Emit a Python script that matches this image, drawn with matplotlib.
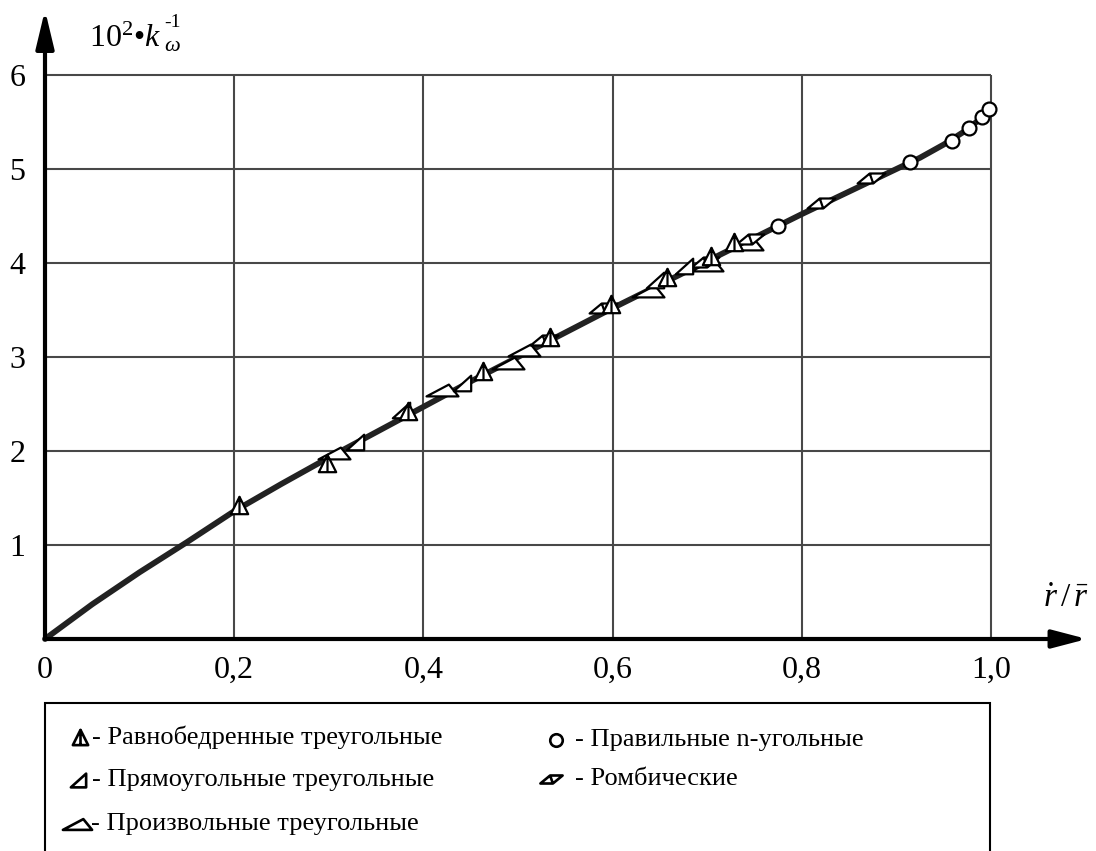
import numpy as np
import matplotlib
matplotlib.use("Agg")
import matplotlib.pyplot as plt
from matplotlib.path import Path
from matplotlib.patches import Rectangle
from matplotlib.lines import Line2D

plt.rcParams['font.family'] = ['Liberation Serif', 'DejaVu Serif']
plt.rcParams['mathtext.fontset'] = 'custom'
plt.rcParams['mathtext.rm'] = 'Liberation Serif'
plt.rcParams['mathtext.it'] = 'Liberation Serif:italic'
plt.rcParams['mathtext.bf'] = 'Liberation Serif:bold'

# ---------------- data ----------------
x_ticks = [0, 0.2, 0.4, 0.6, 0.8, 1.0]
x_tick_labels = ['0', '0,2', '0,4', '0,6', '0,8', '1,0']
y_ticks = [1, 2, 3, 4, 5, 6]
y_tick_labels = ['1', '2', '3', '4', '5', '6']

curve_x = [0, 0.05, 0.10, 0.15, 0.20, 0.25, 0.30, 0.35, 0.40, 0.45, 0.50, 0.55,
           0.60, 0.65, 0.70, 0.75, 0.80, 0.85, 0.90, 0.925, 0.95, 0.975, 1.0]
curve_y = [0, 0.37, 0.71, 1.03, 1.36, 1.65, 1.93, 2.20, 2.47, 2.74, 3.00, 3.26,
           3.52, 3.77, 4.02, 4.27, 4.52, 4.76, 5.00, 5.12, 5.26, 5.42, 5.63]

iso_x = [0.205, 0.298, 0.384, 0.463, 0.534, 0.598, 0.658, 0.704, 0.728]
iso_y = [1.43, 1.87, 2.43, 2.85, 3.21, 3.56, 3.85, 4.07, 4.22]

right_x = [0.328, 0.376, 0.441, 0.645, 0.675]
right_y = [2.10, 2.44, 2.72, 3.82, 3.97]

scal_x = [0.305, 0.420, 0.489, 0.506, 0.637, 0.700, 0.742]
scal_y = [1.98, 2.65, 2.94, 3.07, 3.70, 3.98, 4.20]

rhomb_x = [0.527, 0.590, 0.698, 0.745, 0.820, 0.873]
rhomb_y = [3.18, 3.52, 4.01, 4.26, 4.64, 4.90]

circ_x = [0.775, 0.914, 0.959, 0.977, 0.990, 0.998]
circ_y = [4.39, 5.07, 5.30, 5.44, 5.55, 5.64]

legend_labels = ['- Равнобедренные треугольные', '- Прямоугольные треугольные',
                 '- Произвольные треугольные', '- Правильные n-угольные',
                 '- Ромбические']

# ---------------- marker shapes ----------------
M, L, C = Path.MOVETO, Path.LINETO, Path.CLOSEPOLY
iso_path = Path([(-0.5, -0.5), (0, 0.5), (0.5, -0.5), (-0.5, -0.5), (0, 0.5), (0, -0.5)],
                [M, L, L, C, M, L])
right_path = Path([(-0.5, -0.45), (0.5, 0.45), (0.5, -0.45), (-0.5, -0.45)],
                  [M, L, L, C])
scal_path = Path([(-1, -0.37), (0.4, 0.37), (1, -0.37), (-1, -0.37)],
                 [M, L, L, C])
rhomb_path = Path([(-1, -0.36), (0.125, -0.36), (1, 0.36), (-0.125, 0.36), (-1, -0.36),
                   (-0.125, 0.36), (0.125, -0.36)],
                  [M, L, L, L, C, M, L])

W, H = 1096, 851
fig = plt.figure(figsize=(W / 100, H / 100), dpi=100)


def fx(p):
    return p / W


def fy(p):
    return 1 - p / H


x0px, x1px, y0px, y6px = 45, 991, 639, 75
ax = fig.add_axes([fx(x0px), fy(y0px), (x1px - x0px) / W, (y0px - y6px) / H])
ax.set_xlim(0, 1.0)
ax.set_ylim(0, 6)
for s in ax.spines.values():
    s.set_visible(False)
ax.set_facecolor('none')

# grid
grid_c = '#484848'
ax.vlines(x_ticks[1:], 0, 6, colors=grid_c, lw=1.5, zorder=1, clip_on=False)
ax.hlines(y_ticks, 0, 1.0, colors=grid_c, lw=1.5, zorder=1, clip_on=False)

# ticks
ax.set_xticks(x_ticks)
ax.set_xticklabels(x_tick_labels, fontsize=23)
ax.set_yticks(y_ticks)
ax.set_yticklabels(y_tick_labels, fontsize=23)
ax.tick_params(axis='both', length=0)
ax.tick_params(axis='x', pad=12)
ax.tick_params(axis='y', pad=14)

# axes with arrows
xa_end = (1087 - x0px) / (x1px - x0px)
ya_end = (y0px - 10) / ((y0px - y6px) / 6)
ax.annotate('', xy=(xa_end, 0), xytext=(0, 0), annotation_clip=False,
            arrowprops=dict(arrowstyle='-|>,head_length=2.1,head_width=0.55',
                            mutation_scale=10, lw=3, color='k',
                            shrinkA=0, shrinkB=0), zorder=5)
ax.annotate('', xy=(0, ya_end), xytext=(0, 0), annotation_clip=False,
            arrowprops=dict(arrowstyle='-|>,head_length=2.3,head_width=0.55',
                            mutation_scale=10, lw=3, color='k',
                            shrinkA=0, shrinkB=0), zorder=5)

# curve
ax.plot(curve_x, curve_y, color='#222222', lw=4.2, solid_capstyle='round',
        zorder=3, clip_on=False)

mk = dict(linestyle='none', markerfacecolor='white', markeredgecolor='black',
          markeredgewidth=1.6, zorder=4, clip_on=False)
ax.plot(scal_x, scal_y, marker=scal_path, markersize=23, **mk)
ax.plot(rhomb_x, rhomb_y, marker=rhomb_path, markersize=20, **mk)
ax.plot(right_x, right_y, marker=right_path, markersize=12.5, **mk)
ax.plot(iso_x, iso_y, marker=iso_path, markersize=12.5, **mk)
ax.plot(circ_x, circ_y, marker='o', markersize=10, **mk)

# axis labels
fig.text(fx(89), fy(47), r'10$^{2}$•$k$', fontsize=23, ha='left', va='baseline')
fig.text(fx(164), fy(27), '-1', fontsize=14, ha='left', va='baseline')
fig.text(fx(164), fy(51), r'$\omega$', fontsize=16, ha='left', va='baseline')
fig.text(fx(1043), fy(607), r'$\dot{r}\,/\,\bar{r}$', fontsize=24,
         ha='left', va='baseline')

# legend box
fig.patches.append(Rectangle((fx(45), fy(870)), (990 - 45) / W, (870 - 703) / H,
                             transform=fig.transFigure, fill=False, lw=1.5,
                             ec='black'))

leg_items = [
    (iso_path, 11, 80, 737, 92, 0),
    (right_path, 11, 78, 780, 92, 1),
    (scal_path, 21, 77, 824, 91, 2),
    ('o', 9, 556, 740, 575, 3),
    (rhomb_path, 16, 551, 779, 575, 4),
]
for marker, ms, mx, my, tx, idx in leg_items:
    fig.add_artist(Line2D([fx(mx)], [fy(my)], transform=fig.transFigure,
                          marker=marker, markersize=ms, linestyle='none',
                          markerfacecolor='white', markeredgecolor='black',
                          markeredgewidth=1.9))
    fig.text(fx(tx), fy(my), legend_labels[idx], fontsize=19,
             ha='left', va='center')

fig.savefig('out.png', dpi=100)
